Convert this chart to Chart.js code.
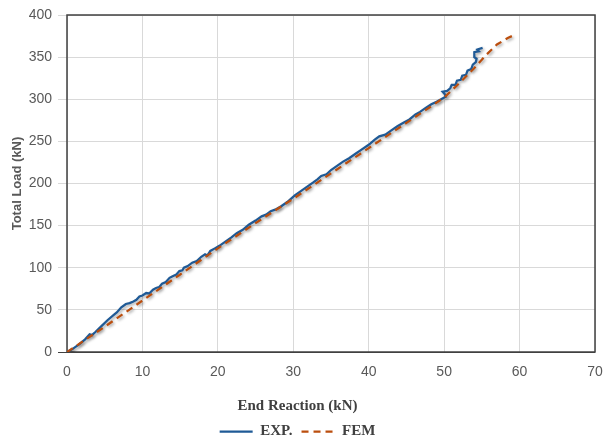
<!DOCTYPE html>
<html>
<head>
<meta charset="utf-8">
<title>Total Load vs End Reaction</title>
<script src="https://cdn.jsdelivr.net/npm/chart.js@4.4.1/dist/chart.umd.min.js"></script>
<style>
    html, body { margin: 0; padding: 0; background: #ffffff; }
    #wrap { width: 603px; height: 441px; }
</style>
</head>
<body>
<div id="wrap"><canvas id="loadChart" width="603" height="441"></canvas></div>
<script>
// ================================
// Data
// ================================

const expX = [0, 0.8, 1.6, 2.4, 3.0, 3.3, 3.8, 4.6, 5.4, 6.2, 6.6, 7.2, 7.8, 8.3, 8.8, 9.2, 9.6, 10.0,
    10.5, 10.9, 11.4, 11.8, 12.2, 12.6, 13.1, 13.6, 14.0, 14.5, 14.9, 15.3, 15.5, 16.0, 16.6, 17.2,
    17.8, 18.3, 18.6, 19.0, 19.6, 20.2, 21.0, 21.8, 22.5, 23.3, 24.1, 25.0, 25.8, 26.4, 27.0, 27.6,
    28.4, 29.2, 30.2, 31.0, 31.8, 32.6, 33.2, 33.7, 34.4, 35.0, 35.8, 36.6, 37.4, 38.2, 39.0, 40.0,
    40.8, 41.4, 42.2, 43.0, 43.8, 44.6, 45.4, 46.2, 46.8, 47.6, 48.3, 49.0, 49.6, 50.2, 50.1, 49.8,
    50.4, 50.8, 51.0, 51.5, 51.7, 52.2, 52.4, 52.9, 53.1, 53.6, 53.8, 54.2, 54.3, 54.0, 54.0, 54.6,
    54.4, 55.1];
const expY = [0, 4, 9, 15, 21, 20, 24, 31, 38, 44, 47, 53, 57, 58, 60, 62, 66, 67,
    70, 69.5, 74, 76, 77, 81, 83, 88, 90, 92, 96, 97, 100, 102, 106, 108,
    113, 116, 114.5, 120, 123, 126, 131, 136, 141, 145, 151, 156, 161, 163, 167, 169,
    173, 178, 186, 191, 196, 201, 205, 209, 211, 216, 221, 226, 230, 235, 240, 246,
    252, 256, 258, 263, 268, 272, 276, 282, 285, 290, 294, 297, 300, 303, 306, 309,
    310, 313, 317, 317, 322, 323, 328, 329, 334, 336, 341, 344, 348, 350, 356, 357,
    359, 361];

const femX = [0, 2, 5, 10, 15, 20, 25, 30, 35, 40, 45, 50, 52, 54, 55.5, 57, 58.5, 59.5];
const femY = [0, 12, 30, 61, 92, 123, 153, 182, 212, 242, 272, 302, 319, 337, 352, 365, 373, 377];

const xTicks = [0, 10, 20, 30, 40, 50, 60, 70];
const yTicks = [0, 50, 100, 150, 200, 250, 300, 350, 400];

const seriesNames = ['EXP.', 'FEM'];
const xTitle = 'End Reaction (kN)';
const yTitle = 'Total Load (kN)';

// Helper: pair x and y arrays into points
function toPoints(xs, ys) {
    return xs.map((x, i) => ({ x: x, y: ys[i] }));
}

// Dark box around the plot area
const frameBox = {
    id: 'frameBox',
    beforeDatasetsDraw(chart) {
        const { ctx, chartArea } = chart;
        ctx.save();
        ctx.strokeStyle = '#404040';
        ctx.lineWidth = 1.5;
        ctx.strokeRect(chartArea.left, chartArea.top,
            chartArea.right - chartArea.left, chartArea.bottom - chartArea.top);
        ctx.restore();
    }
};

// Soft shadow under the series lines
const lineShadow = {
    id: 'lineShadow',
    beforeDatasetDraw(chart) {
        const ctx = chart.ctx;
        ctx.save();
        ctx.shadowColor = 'rgba(0, 0, 0, 0.35)';
        ctx.shadowBlur = 3;
        ctx.shadowOffsetX = 1.5;
        ctx.shadowOffsetY = 1.5;
    },
    afterDatasetDraw(chart) {
        chart.ctx.restore();
    }
};

const tickFont = { family: 'Liberation Sans', size: 14 };
const serifBold = { family: 'Liberation Serif', size: 15, weight: 'bold' };

new Chart(document.getElementById('loadChart'), {
    type: 'scatter',
    data: {
        datasets: [{
            label: seriesNames[0],
            data: toPoints(expX, expY),
            showLine: true,
            borderColor: '#1f5a96',
            backgroundColor: '#1f5a96',
            borderWidth: 2.25,
            pointRadius: 0,
            tension: 0,
            order: 2
        }, {
            label: seriesNames[1],
            data: toPoints(femX, femY),
            showLine: true,
            borderColor: '#bb4e0e',
            backgroundColor: '#bb4e0e',
            borderWidth: 2.25,
            borderDash: [7, 5],
            pointRadius: 0,
            tension: 0,
            order: 1
        }]
    },
    options: {
        responsive: false,
        animation: false,
        devicePixelRatio: 1,
        layout: {
            padding: { left: 0, right: 8, top: 15, bottom: -8 }
        },
        scales: {
            x: {
                type: 'linear',
                min: 0,
                max: 70,
                afterBuildTicks: (scale) => { scale.ticks = xTicks.map(v => ({ value: v })); },
                afterFit: (scale) => {
                    scale.height = 26;
                    // let the end labels hang over the edges instead of shrinking the plot
                    scale.paddingLeft = 0;
                    scale.paddingRight = 0;
                },
                grid: { color: '#d9d9d9', lineWidth: 1, drawTicks: false },
                border: { display: false },
                ticks: { padding: 12, color: '#595959', font: tickFont, maxRotation: 0 }
            },
            y: {
                type: 'linear',
                min: 0,
                max: 400,
                afterBuildTicks: (scale) => { scale.ticks = yTicks.map(v => ({ value: v })); },
                afterFit: (scale) => { scale.width = 67; },
                grid: {
                    color: (c) => (c.tick && c.tick.value === 0 ? '#404040' : '#d9d9d9'),
                    lineWidth: 1,
                    drawTicks: true,
                    tickLength: 9
                },
                border: { display: false },
                ticks: { padding: 6, color: '#595959', font: tickFont },
                title: {
                    display: true,
                    text: yTitle,
                    color: '#595959',
                    font: { family: 'Liberation Sans', size: 13, weight: 'bold' },
                    padding: { top: 10, bottom: 0 }
                }
            }
        },
        plugins: {
            title: {
                display: true,
                text: xTitle,
                position: 'bottom',
                weight: 500,
                color: '#404040',
                font: serifBold,
                padding: { top: 19, bottom: 0 }
            },
            legend: {
                position: 'bottom',
                labels: {
                    usePointStyle: true,
                    pointStyle: 'line',
                    pointStyleWidth: 33,
                    padding: 9,
                    color: '#404040',
                    font: serifBold,
                    sort: (a, b) => a.datasetIndex - b.datasetIndex,
                    // point-style labels drop the dash, so put it back from the dataset
                    generateLabels: (chart) => {
                        const items = Chart.defaults.plugins.legend.labels.generateLabels(chart);
                        items.forEach(item => {
                            const ds = chart.data.datasets[item.datasetIndex];
                            item.lineDash = ds.borderDash || [];
                            item.strokeStyle = ds.borderColor;
                            item.lineWidth = 2.25;
                        });
                        return items;
                    }
                }
            },
            tooltip: { enabled: false }
        }
    },
    plugins: [frameBox, lineShadow]
});
</script>
</body>
</html>
